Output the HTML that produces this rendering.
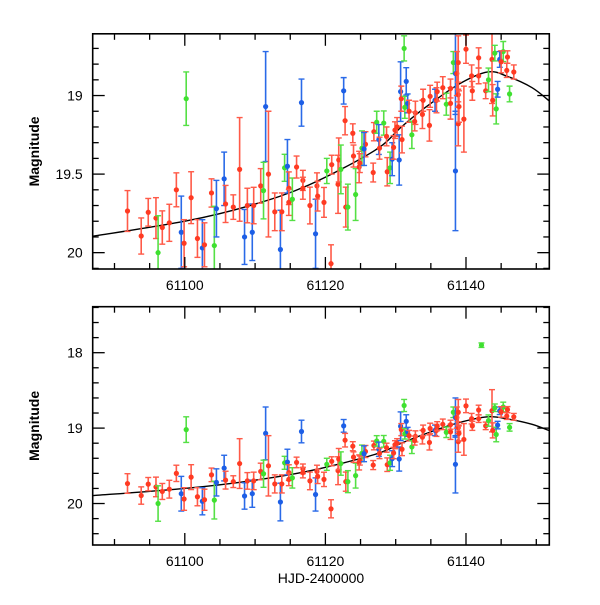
<!DOCTYPE html>
<html><head><meta charset="utf-8"><style>
body{margin:0;background:#fff}
svg text{font-family:"Liberation Sans",sans-serif;font-size:14px;fill:#000}
</style></head><body>
<svg id="chart" width="600" height="600" viewBox="0 0 600 600" xmlns="http://www.w3.org/2000/svg"></svg>
<script>
const days=[61091.85,61093.8,61094.8,61095.9,61096.2,61096.8,61097.8,61098.8,61100.2,61099.5,61099.9,61100.9,61101.8,61102.5,61102.8,61103.8,61104.2,61104.5,61105.6,61105.8,61106.9,61107.8,61108.5,61108.9,61109.6,61109.8,61111.5,61111.9,61110.8,61111.2,61112.8,61113.6,61113.8,61114.2,61114.6,61114.8,61114.8,61115.3,61115.9,61116.6,61116.8,61116.8,61117.8,61118.6,61118.8,61118.9,61119.8,61120.2,61120.8,61120.9,61121.8,61121.9,61122.2,61122.6,61122.8,61122.9,61123.2,61123.9,61124.3,61124.0,61124.8,61125.2,61124.9,61125.7,61125.5,61126.8,61126.9,61127.3,61127.6,61127.7,61128.3,61128.8,61128.7,61129.2,61129.5,61129.9,61129.7,61130.2,61130.5,61130.7,61130.8,61131.2,61131.5,61131.3,61130.9,61131.7,61131.9,61132.3,61132.8,61132.7,61133.8,61133.9,61134.8,61134.9,61135.6,61135.8,61135.9,61136.7,61137.2,61137.8,61137.8,61138.2,61138.5,61138.5,61138.7,61138.9,61138.9,61138.9,61139.0,61139.7,61140.0,61140.8,61140.9,61141.8,61141.8,61142.2,61142.8,61143.2,61143.7,61143.8,61144.1,61144.3,61144.5,61144.8,61145.3,61145.0,61145.9,61145.8,61146.8,61146.2];
const mags=[19.735,19.894,19.743,19.78,20.0,19.84,19.81,19.60,19.02,19.87,19.94,19.65,19.91,19.97,19.95,19.62,19.955,19.72,19.53,19.69,19.71,19.47,19.90,19.70,19.87,19.70,19.07,19.50,19.575,19.605,19.74,19.98,19.74,19.46,19.45,19.59,19.68,19.66,19.455,19.045,19.54,19.59,19.70,19.88,19.575,19.64,19.68,19.48,20.07,19.44,19.565,19.41,19.47,18.97,19.16,19.71,19.71,19.24,19.63,19.385,19.455,19.335,19.43,19.31,19.34,19.49,19.23,19.17,19.28,19.335,19.175,19.485,19.26,19.46,19.405,19.22,19.33,19.20,19.41,18.975,19.02,18.70,18.91,19.075,19.28,19.05,19.10,19.25,19.11,19.165,19.12,19.03,19.19,19.005,19.03,19.03,18.975,18.95,19.055,19.05,18.955,18.79,19.48,18.86,18.86,18.79,18.995,19.18,19.07,19.15,18.705,18.875,18.97,18.76,18.875,17.90,18.97,18.90,18.77,19.03,18.73,19.085,18.96,18.77,18.72,18.785,18.755,18.84,18.85,18.99];
const errs=[0.13,0.115,0.088,0.13,0.235,0.106,0.118,0.108,0.17,0.23,0.15,0.165,0.12,0.18,0.14,0.09,0.25,0.18,0.17,0.118,0.078,0.33,0.175,0.11,0.18,0.116,0.35,0.40,0.11,0.18,0.12,0.25,0.12,0.086,0.17,0.104,0.083,0.135,0.07,0.15,0.064,0.07,0.117,0.22,0.083,0.095,0.095,0.08,0.12,0.06,0.185,0.14,0.155,0.084,0.09,0.127,0.146,0.06,0.165,0.07,0.1,0.11,0.06,0.08,0.105,0.06,0.058,0.07,0.095,0.07,0.077,0.09,0.06,0.1,0.105,0.053,0.075,0.06,0.16,0.19,0.08,0.08,0.087,0.07,0.085,0.06,0.07,0.087,0.074,0.06,0.09,0.07,0.1,0.07,0.07,0.08,0.06,0.07,0.07,0.1,0.06,0.07,0.38,0.26,0.14,0.17,0.08,0.14,0.1,0.21,0.09,0.07,0.06,0.064,0.05,0.03,0.05,0.075,0.28,0.1,0.05,0.096,0.05,0.05,0.064,0.07,0.04,0.045,0.045,0.05];
const bands=[
 "r","r","r","r","g","r","r","r","g","b","r","r","r","b","r","r","g","b","b","r","r","r","b","r",
 "b","r","b","r","r","g","r","b","r","g","b","r","r","g","r","b","r","r","r","b","r","r","r","g",
 "r","r","r","r","g","b","r","r","g","r","g","r","r","g","r","r","b","r","r","g","b","r","g","r",
 "r","g","b","r","r","r",
 "b","b","r","g","b","g","r","b","r","g","r","r","r","r","r","r","b","r","r","r","g","r","r","g",
 "b","b","r","r","r","r","r","r","r","r","r","r","r","g","r","g","r","r","g","g","b","b","g","r",
 "r","r","r","g"];
const curveDays=[61087,61100,61109.3,61117.6,61127,61130.8,61134.1,61138.9,61143.1,61146,61149.4,61152];
const curveMags=[19.895,19.80,19.70,19.57,19.35,19.20,19.08,18.93,18.85,18.88,18.95,19.04];
const xTickLabels=["61100","61120","61140"];

const NS="http://www.w3.org/2000/svg";
const svg=document.getElementById("chart");
const COL={r:"#ff3a22",g:"#3fe030",b:"#1c5ee6"};
const ECOL={r:"#ff5a48",g:"#55e045",b:"#2a6ae8"};
function mk(tag,attrs,parent){const e=document.createElementNS(NS,tag);for(const k in attrs)e.setAttribute(k,attrs[k]);(parent||svg).appendChild(e);return e;}
const X0=92.7,X1=549.3,D0=61086.9,D1=61151.85;
function xs(d){return X0+(d-D0)/(D1-D0)*(X1-X0);}
const panels=[
 {name:"top",t:33.8,b:269,m0:18.607,m1:20.104,minor:0.1,major:0.5,labels:["19","19.5","20"],lv:[19,19.5,20]},
 {name:"bottom",t:306.7,b:545,m0:17.39,m1:20.55,minor:0.2,major:1,labels:["18","19","20"],lv:[18,19,20]}
];
panels.forEach(p=>{
 const ys=m=>p.t+(m-p.m0)/(p.m1-p.m0)*(p.b-p.t);
 const g=mk("g",{});
 
 
 const cid="clip-"+p.name;
 const cp=mk("clipPath",{id:cid},g);mk("rect",{x:X0,y:p.t,width:X1-X0,height:p.b-p.t},cp);
 const data=mk("g",{"clip-path":"url(#"+cid+")"},g);
 
 
 const pts=curveDays.map((d,i)=>[xs(d),ys(curveMags[i])]);
 let dstr="M"+pts[0][0]+","+pts[0][1];
 for(let i=0;i<pts.length-1;i++){const p0=pts[Math.max(0,i-1)],p1=pts[i],p2=pts[i+1],p3=pts[Math.min(pts.length-1,i+2)];
  dstr+=" C"+(p1[0]+(p2[0]-p0[0])/6)+","+(p1[1]+(p2[1]-p0[1])/6)+" "+(p2[0]-(p3[0]-p1[0])/6)+","+(p2[1]-(p3[1]-p1[1])/6)+" "+p2[0]+","+p2[1];}
 const cv=mk("path",{d:dstr,fill:"none",stroke:"#000","stroke-width":1.4},data);
 
 
 days.forEach((d,i)=>{
  const c=bands[i]||"r",x=xs(d),y=ys(mags[i]),y1=ys(mags[i]-errs[i]),y2=ys(mags[i]+errs[i]);
  const pg=mk("g",{},data);
  
  
  mk("line",{x1:x,x2:x,y1:y1,y2:y2,stroke:ECOL[c],"stroke-width":1.6},pg);
  mk("line",{x1:x-3,x2:x+3,y1:y1,y2:y1,stroke:ECOL[c],"stroke-width":1.4},pg);
  mk("line",{x1:x-3,x2:x+3,y1:y2,y2:y2,stroke:ECOL[c],"stroke-width":1.4},pg);
  mk("circle",{cx:x,cy:y,r:2.6,fill:COL[c]},pg);
 });
 const fr=mk("rect",{x:X0,y:p.t,width:X1-X0,height:p.b-p.t,fill:"none",stroke:"#000","stroke-width":1.6},g);
 
 
 for(let d=61090;d<=61150;d+=5){const x=xs(d),L=(d%20===0)?12:6;
  mk("line",{x1:x,x2:x,y1:p.b,y2:p.b-L,stroke:"#000","stroke-width":1.3},g);
  mk("line",{x1:x,x2:x,y1:p.t,y2:p.t+L,stroke:"#000","stroke-width":1.3},g);}
 const start=Math.ceil(p.m0/p.minor-1e-6);
 for(let k=start;k*p.minor<=p.m1+1e-9;k++){const m=k*p.minor;const y=ys(m);
  const isMaj=Math.abs(m/p.major-Math.round(m/p.major))<1e-6,L=isMaj?12:6;
  mk("line",{x1:X0,x2:X0+L,y1:y,y2:y,stroke:"#000","stroke-width":1.3},g);
  mk("line",{x1:X1,x2:X1-L,y1:y,y2:y,stroke:"#000","stroke-width":1.3},g);}
 p.labels.forEach((s,i)=>{const t=mk("text",{x:X0-10,y:ys(p.lv[i])+5,"text-anchor":"end"},g);t.textContent=s;
  
  });
 xTickLabels.forEach(s=>{const t=mk("text",{x:xs(+s),y:p.b+21,"text-anchor":"middle"},g);t.textContent=s;
  
  });
 const yt=mk("text",{x:0,y:0,"text-anchor":"middle","font-weight":"bold",transform:"translate(39,"+((p.t+p.b)/2)+") rotate(-90)"},g);
 yt.textContent="Magnitude";
 
 
});
const xt=mk("text",{x:321,y:583,"text-anchor":"middle"});
xt.textContent="HJD-2400000";


</script>
</body></html>
